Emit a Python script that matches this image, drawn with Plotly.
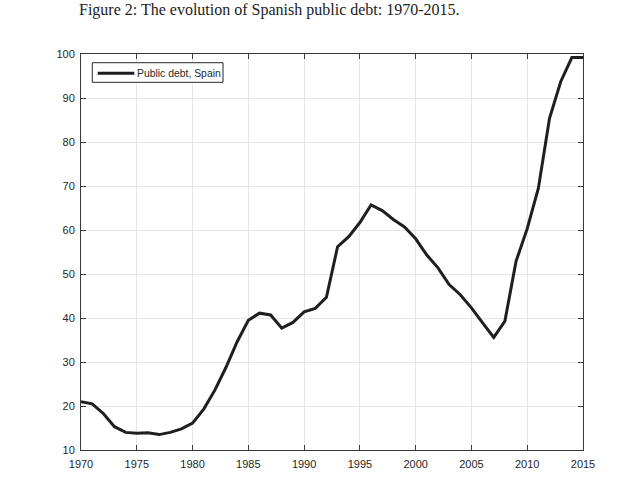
import plotly.graph_objects as go

years = list(range(1970, 2016))
debt = [21.0, 20.5, 18.3, 15.3, 14.0, 13.8, 13.9, 13.5, 14.0, 14.8,
        16.1, 19.3, 23.6, 28.8, 34.6, 39.5, 41.1, 40.7, 37.7, 39.0,
        41.4, 42.2, 44.7, 56.2, 58.5, 61.7, 65.7, 64.4, 62.4, 60.7,
        58.0, 54.3, 51.4, 47.6, 45.3, 42.3, 38.9, 35.6, 39.3, 52.9,
        60.3, 69.5, 85.4, 93.7, 99.2, 99.2]
series_name = "Public debt, Spain"
title_text = "Figure 2: The evolution of Spanish public debt: 1970-2015."
x_ticks = list(range(1970, 2016, 5))
y_ticks = list(range(10, 101, 10))

line_color = "#1f1f1f"
fig = go.Figure()
fig.add_trace(go.Scatter(x=years, y=debt, mode="lines", name=series_name,
                         line=dict(color=line_color, width=3), showlegend=False))

axis_common = dict(showline=True, linecolor="#3a3a3a", linewidth=1, mirror="ticks",
                   ticks="inside", ticklen=5, tickcolor="#3a3a3a",
                   showgrid=True, gridcolor="#e6e6e6", gridwidth=1, zeroline=False,
                   tickfont=dict(family="Liberation Sans, Arial", size=11, color="#262626"))
fig.update_xaxes(range=[1970, 2015], tickvals=x_ticks, ticklabelstandoff=4, **axis_common)
fig.update_yaxes(range=[10, 100], tickvals=y_ticks, ticklabelstandoff=3, **axis_common)

# legend box drawn in paper coordinates
fig.add_shape(type="rect", xref="paper", yref="paper", x0=0.0225, x1=0.2829, y0=0.9285, y1=0.978,
              line=dict(color="#262626", width=1), fillcolor="white", layer="above")
fig.add_shape(type="line", xref="paper", yref="paper", x0=0.0333, x1=0.1062, y0=0.9513, y1=0.9513,
              line=dict(color=line_color, width=3), layer="above")

fig.update_layout(
    width=643, height=494,
    margin=dict(l=81, r=60, t=54, b=44),
    paper_bgcolor="white", plot_bgcolor="white",
    showlegend=False,
    annotations=[
        dict(text=series_name, xref="paper", yref="paper", x=0.1076, y=0.9513,
             xanchor="left", yanchor="middle", showarrow=False,
             font=dict(family="Liberation Sans, Arial", size=10.4, color="#262626")),
        dict(text=title_text, xref="paper", yref="paper", x=-0.008, y=1.0,
             yshift=44, xanchor="left", yanchor="middle", showarrow=False,
             font=dict(family="Liberation Serif, DejaVu Serif", size=16, color="#222222")),
    ],
)

fig.write_html("out.html")
